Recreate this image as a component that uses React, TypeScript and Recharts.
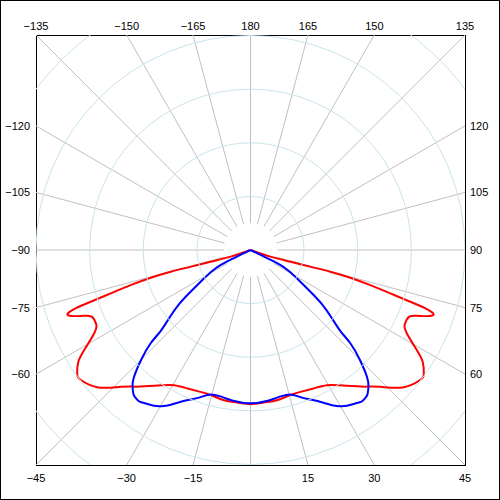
import {
  ComposedChart,
  Line,
  XAxis,
  YAxis,
  ReferenceLine,
  ReferenceDot,
  ReferenceArea,
} from "recharts";

// half profiles (gamma angle in degrees, intensity), mirrored for the other side
const redAngles = [0, 5, 10, 15, 19.5, 24.5, 29.5, 33.5, 39, 43.5, 48, 52.5, 54.5, 57, 59, 62, 63.8, 64.7, 67.3, 68.8, 70.5, 71.6, 72.1, 72.8, 73.7, 74.5, 74.8, 74.4, 73.7, 71.5, 70];
const redValues = [287, 285, 284, 280, 280, 283, 289, 302, 327, 351, 382, 398, 397, 383, 362, 330, 320, 319, 321, 339, 362, 343, 313, 273, 233, 193, 154, 115, 78, 39, 0];

const blueAngles = [0, 7, 12, 16, 19, 22.3, 25.6, 27.3, 29.1, 31.8, 34.9, 36.5, 38.3, 39.3, 40.9, 42.6, 45, 47, 48, 50, 52.9, 55.2, 57.6, 60.9, 63.4, 64, 64, 64];
const blueValues = [285, 282, 278, 280, 290, 301, 315, 324, 332, 341, 347, 350, 348, 345, 336, 321, 288, 255, 226, 199, 167, 136, 110, 85, 62, 41, 21, 0];

// angle labels round the frame
const topLabels = [-135, -150, -165, 180, 165, 150, 135];
const bottomLabels = [-45, -30, -15, 15, 30, 45];
const leftLabels = [-120, -105, -90, -75, -60];
const rightLabels = [120, 105, 90, 75, 60];

const circleValues = [100, 200, 300, 400, 500];
const spokeAngles = Array.from({ length: 24 }, (_, i) => i * 15);

const MAX = 400;
const W = 500;
const H = 500;
const M = { top: 35, right: 35, bottom: 35, left: 36 };
const PX = (W - M.left - M.right) / (2 * MAX);

const rad = (d: number) => (d * Math.PI) / 180;

function toPoints(angles: number[], values: number[]) {
  const half = angles.map((a, i) => ({ a, v: values[i] }));
  const left = half
    .slice()
    .reverse()
    .map((p) => ({ a: -p.a, v: p.v }));
  return [...left, ...half.slice(1)].map((p) => ({
    x: p.v * Math.sin(rad(p.a)),
    y: -p.v * Math.cos(rad(p.a)),
  }));
}

const redPts = toPoints(redAngles, redValues);
const bluePts = toPoints(blueAngles, blueValues);

const topPos = topLabels.map((l) => MAX * Math.tan(rad((180 - Math.abs(l)) * Math.sign(l))));
const bottomPos = bottomLabels.map((l) => MAX * Math.tan(rad(l)));
const leftPos = leftLabels.map((l) => MAX * Math.tan(rad(Math.abs(l) - 90)));
const rightPos = rightLabels.map((l) => MAX * Math.tan(rad(l - 90)));

const fmt = (labels: number[]) => (_: number, i: number) => {
  const l = labels[i];
  return l < 0 ? `\u2212${-l}` : `${l}`;
};

const tickStyle = { fontSize: 11, fill: "#000", fontFamily: "'Liberation Sans', Arial, sans-serif" };

export default function App() {
  return (
    <div style={{ position: "relative", width: W, height: H, background: "#fff" }}>
      <style>{`body{margin:0}`}</style>
      <ComposedChart width={W} height={H} margin={{ top: 0, right: 0, bottom: 0, left: 0 }}>
        <XAxis
          xAxisId={0}
          type="number"
          dataKey="x"
          domain={[-MAX, MAX]}
          ticks={bottomPos}
          tickFormatter={fmt(bottomLabels)}
          interval={0}
          orientation="bottom"
          height={M.bottom}
          axisLine={false}
          tickLine={false}
          tickSize={7}
          tickMargin={2}
          tick={tickStyle}
          allowDataOverflow
        />
        <XAxis
          xAxisId="top"
          type="number"
          dataKey="x"
          domain={[-MAX, MAX]}
          ticks={topPos}
          tickFormatter={fmt(topLabels)}
          interval={0}
          orientation="top"
          height={M.top}
          axisLine={false}
          tickLine={false}
          tickSize={3}
          tickMargin={2}
          tick={tickStyle}
          allowDataOverflow
        />
        <YAxis
          yAxisId={0}
          type="number"
          domain={[-MAX, MAX]}
          ticks={leftPos}
          tickFormatter={fmt(leftLabels)}
          interval={0}
          orientation="left"
          width={M.left}
          axisLine={false}
          tickLine={false}
          tickSize={4}
          tickMargin={2}
          tick={tickStyle}
          allowDataOverflow
        />
        <YAxis
          yAxisId="right"
          type="number"
          domain={[-MAX, MAX]}
          ticks={rightPos}
          tickFormatter={fmt(rightLabels)}
          interval={0}
          orientation="right"
          width={M.right}
          axisLine={false}
          tickLine={false}
          tickSize={3}
          tickMargin={2}
          tick={tickStyle}
          allowDataOverflow
        />

        {circleValues.map((v) => (
          <ReferenceDot
            key={`c${v}`}
            x={0}
            y={0}
            r={v * PX}
            fill="none"
            stroke="#c8e4ec"
            strokeWidth={1}
            ifOverflow="hidden"
          />
        ))}
        {spokeAngles.map((a) => {
          const s = Math.sin(rad(a));
          const c = Math.cos(rad(a));
          const t = (MAX - 0.01) / Math.max(Math.abs(s), Math.abs(c));
          return (
            <ReferenceLine
              key={`s${a}`}
              segment={[
                { x: 50 * s, y: -50 * c },
                { x: t * s, y: -t * c },
              ]}
              stroke="#c0c0c0"
              strokeWidth={1}
              ifOverflow="visible"
            />
          );
        })}

        <Line
          data={redPts}
          dataKey="y"
          type="natural"
          stroke="#ff0000"
          strokeWidth={2}
          dot={false}
          isAnimationActive={false}
        />
        <Line
          data={bluePts}
          dataKey="y"
          type="natural"
          stroke="#0000ff"
          strokeWidth={2}
          dot={false}
          isAnimationActive={false}
        />

        <ReferenceArea
          x1={-MAX}
          x2={MAX}
          y1={-MAX}
          y2={MAX}
          fill="none"
          stroke="#000"
          strokeWidth={1}
          fillOpacity={0}
          shapeRendering="crispEdges"
          ifOverflow="visible"
        />
      </ComposedChart>
      <div
        style={{
          position: "absolute",
          inset: 0,
          border: "1px solid #000",
          boxSizing: "border-box",
          pointerEvents: "none",
        }}
      />
    </div>
  );
}
